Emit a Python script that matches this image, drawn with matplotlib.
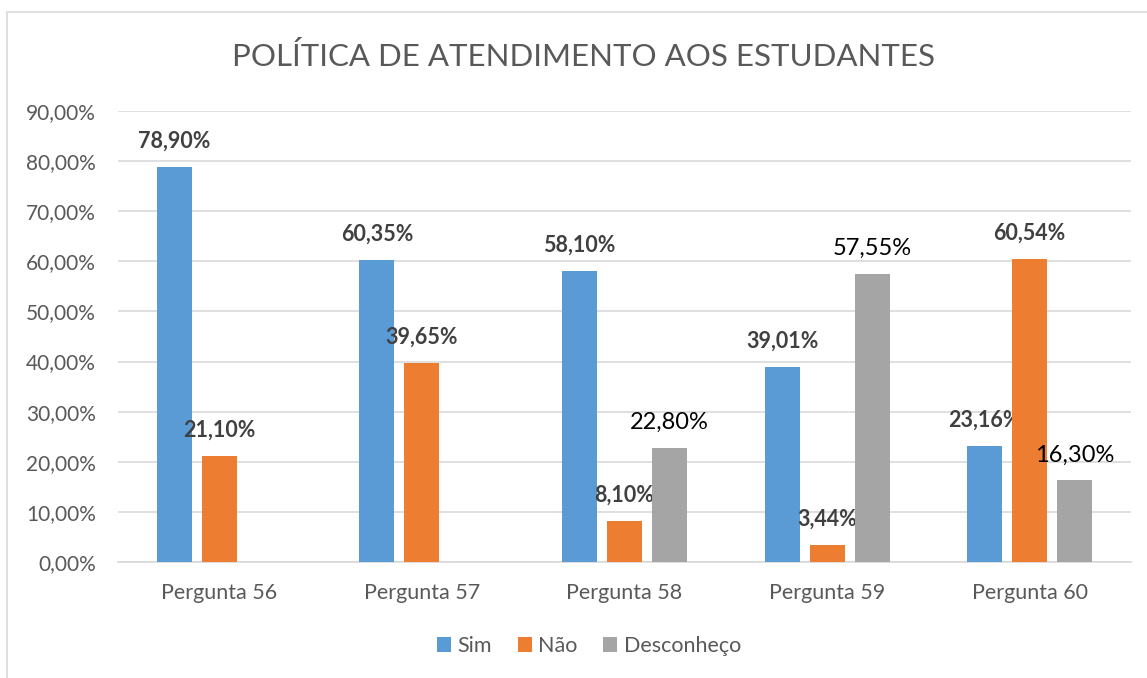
import matplotlib.pyplot as plt
import numpy as np
from matplotlib.patches import Rectangle
from matplotlib.ticker import FuncFormatter

categories = ["Pergunta 56", "Pergunta 57", "Pergunta 58", "Pergunta 59", "Pergunta 60"]
sim = [78.90, 60.35, 58.10, 39.01, 23.16]
nao = [21.10, 39.65, 8.10, 3.44, 60.54]
desconheco = [np.nan, np.nan, 22.80, 57.55, 16.30]
series_names = ["Sim", "Não", "Desconheço"]

plt.rcParams["font.family"] = ["Lato", "DejaVu Sans"]

COLORS = ["#5B9BD5", "#ED7D31", "#A5A5A5"]
GRID = "#D9D9D9"
TEXT = "#595959"


def pct(value: float) -> str:
    return f"{value:.2f}".replace(".", ",") + "%"


fig = plt.figure(figsize=(11.47, 6.78), dpi=100)
fig.patches.append(
    Rectangle((7 / 1147, -0.05), 1.2, 1.05 - 12 / 678, transform=fig.transFigure,
              fill=False, ec="#D9D9D9", lw=1.2)
)
ax = fig.add_axes([118 / 1147, 1 - 562 / 678, 1013 / 1147, (562 - 111) / 678])

x = np.arange(len(categories))
width = 0.173
offset = 0.222
for i, (name, values) in enumerate(zip(series_names, [sim, nao, desconheco])):
    bars = ax.bar(x + (i - 1) * offset, values, width, color=COLORS[i], label=name, zorder=3)
    for bar, value in zip(bars, values):
        if np.isnan(value):
            continue
        cx = bar.get_x() + bar.get_width() / 2
        if i < 2:
            ax.annotate(pct(value), (cx, value), xytext=(0, 11), textcoords="offset points",
                        ha="center", va="bottom", fontsize=15.5, fontweight="bold", color="#404040")
        else:
            ax.annotate(pct(value), (cx, value), xytext=(0, 10.5), textcoords="offset points",
                        ha="center", va="bottom", fontsize=17, color="black")

ax.set_xlim(-0.5, len(categories) - 0.5)
ax.set_ylim(0, 90)
ax.set_yticks(np.arange(0, 91, 10))
ax.yaxis.set_major_formatter(FuncFormatter(lambda v, _: pct(v)))
ax.set_xticks(x, categories)
ax.tick_params(axis="both", length=0, labelcolor=TEXT)
ax.tick_params(axis="x", pad=15, labelsize=15.5)
ax.tick_params(axis="y", pad=16, labelsize=15)
ax.grid(axis="y", color=GRID, lw=1.2, zorder=0)
for side in ["top", "right", "left"]:
    ax.spines[side].set_visible(False)
ax.spines["bottom"].set_color(GRID)
ax.spines["bottom"].set_linewidth(1.2)

fig.text(584 / 1147, 1 - 57 / 678, "POLÍTICA DE ATENDIMENTO AOS ESTUDANTES", ha="center", va="center",
         fontsize=22.5, color=TEXT)

ax.legend(loc="center", bbox_to_anchor=(589 / 1147, 1 - 646 / 678), bbox_transform=fig.transFigure,
          ncol=3, frameon=False, fontsize=15.5, labelcolor=TEXT, handlelength=0.65, handleheight=0.65,
          handletextpad=0.3, columnspacing=1.2)

fig.savefig("out.png", dpi=100)
